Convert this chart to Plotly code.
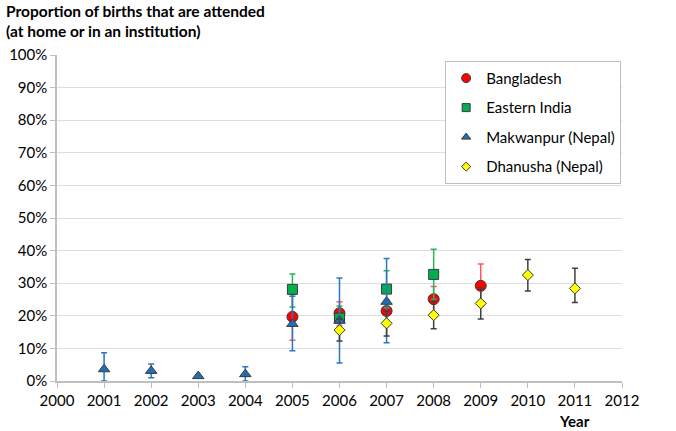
import plotly.graph_objects as go

# Data (values in %)
bd_years = [2005, 2006, 2007, 2008, 2009]
bd_vals = [19.7, 20.8, 21.5, 25.1, 29.2]
bd_hi = [26.5, 24.3, 25.0, 29.0, 35.9]
bd_lo = [12.5, 17.0, 18.0, 21.0, 23.0]

ei_years = [2005, 2006, 2007, 2008]
ei_vals = [28.1, 19.3, 28.2, 32.7]
ei_hi = [32.8, 23.0, 33.8, 40.4]
ei_lo = [22.7, 16.0, 22.5, 25.0]

mk_years = [2001, 2002, 2003, 2004, 2005, 2006, 2007]
mk_vals = [3.6, 3.1, 1.5, 2.1, 17.5, 18.5, 24.3]
mk_hi = [8.7, 5.2, 1.5, 4.4, 26.0, 31.6, 37.6]
mk_lo = [0.0, 1.0, 1.5, 0.0, 9.3, 5.5, 11.7]

dh_years = [2006, 2007, 2008, 2009, 2010, 2011]
dh_vals = [15.6, 17.7, 20.2, 23.8, 32.5, 28.4]
dh_hi = [19.0, 21.5, 24.5, 28.5, 37.3, 34.6]
dh_lo = [12.3, 13.8, 16.0, 19.0, 27.6, 24.1]

x_ticks = list(range(2000, 2013))
y_ticks = list(range(0, 101, 10))
y_tick_labels = [f"{v}%" for v in y_ticks]

FONT = "Lato"

series = [
    ("Bangladesh", bd_years, bd_vals, bd_hi, bd_lo, "circle", "#ff0000", "#ff5a5a", 11, 9),
    ("Eastern India", ei_years, ei_vals, ei_hi, ei_lo, "square", "#00b050", "#2db35a", 10, 8),
    ("Makwanpur (Nepal)", mk_years, mk_vals, mk_hi, mk_lo, "triangle-up", "#1f6fb8", "#2a78c0", 10, 8),
    ("Dhanusha (Nepal)", dh_years, dh_vals, dh_hi, dh_lo, "diamond", "#ffff00", "#404040", 8.5, 7),
]

fig = go.Figure()
for i, (name, xs, ys, hi, lo, sym, col, ecol, sz, lsz) in enumerate(series):
    fig.add_trace(go.Scatter(
        x=xs, y=ys, mode="markers", name=name, showlegend=False,
        marker=dict(symbol=sym, color=col, size=sz,
                    line=dict(color="#3a3a3a", width=1)),
        error_y=dict(type="data", symmetric=False,
                     array=[h - v for h, v in zip(hi, ys)],
                     arrayminus=[v - l for l, v in zip(lo, ys)],
                     color=ecol, thickness=1.5, width=3),
        cliponaxis=False,
    ))
    # legend-only entry with smaller marker
    fig.add_trace(go.Scatter(
        x=[None], y=[None], mode="markers", name=name, legendgroup=f"g{i}",
        marker=dict(symbol=sym, color=col, size=lsz,
                    line=dict(color="#3a3a3a", width=1)),
    ))

fig.update_layout(
    width=676, height=431,
    margin=dict(l=57, r=54, t=55, b=50),
    paper_bgcolor="white", plot_bgcolor="white",
    font=dict(family=FONT, size=15, color="black"),
    showlegend=True,
    legend=dict(x=0.687, y=0.982, xanchor="left", yanchor="top",
                bgcolor="white", bordercolor="#bfbfbf", borderwidth=1,
                font=dict(family=FONT, size=15, color="black"),
                tracegroupgap=7, itemwidth=30, itemsizing="trace"),
    xaxis=dict(range=[2000, 2012], tickvals=x_ticks,
               ticktext=[str(v) for v in x_ticks],
               showgrid=False, zeroline=False,
               showline=True, linecolor="#bfbfbf", linewidth=1.5,
               ticks="outside", ticklen=5, tickcolor="#bfbfbf",
               tickfont=dict(family=FONT, size=15)),
    yaxis=dict(range=[0, 100], tickvals=y_ticks, ticktext=y_tick_labels,
               showgrid=True, gridcolor="#dedede", gridwidth=1,
               zeroline=False, automargin=False,
               showline=True, linecolor="#bfbfbf", linewidth=1.5,
               ticks="outside", ticklen=5, tickcolor="#bfbfbf",
               tickfont=dict(family=FONT, size=15)),
    annotations=[
        dict(text="<b>Proportion of births that are attended<br>(at home or in an institution)</b>",
             xref="paper", yref="paper", x=-0.094, y=1.0, yshift=55,
             xanchor="left", yanchor="top", align="left", showarrow=False,
             font=dict(family=FONT, size=15.5, color="black")),
        dict(text="<b>Year</b>", xref="paper", yref="paper", x=0.916, y=0,
             yshift=-29, xanchor="center", yanchor="top", showarrow=False,
             font=dict(family=FONT, size=15, color="black")),
    ],
)

fig.write_html("out.html", config={"displayModeBar": False},
               post_script="document.body.style.margin='0';")
